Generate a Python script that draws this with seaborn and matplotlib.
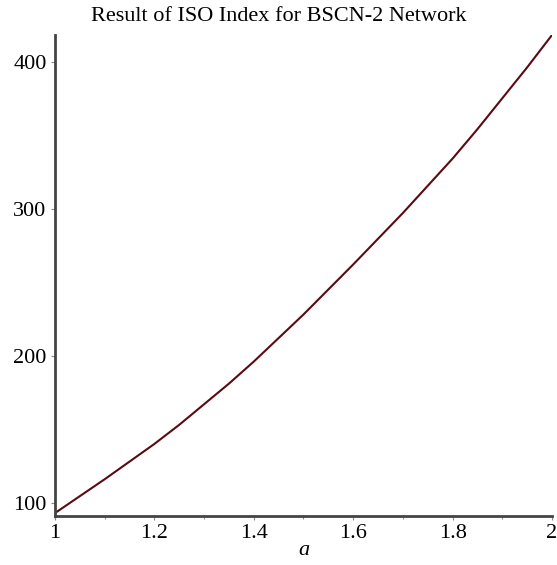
import matplotlib
matplotlib.use("Agg")
import matplotlib.pyplot as plt
import seaborn as sns
import pandas as pd
from matplotlib.ticker import MultipleLocator

# Data
a_values = [1.00, 1.05, 1.10, 1.15, 1.20, 1.25, 1.30, 1.35, 1.40, 1.45, 1.50,
            1.55, 1.60, 1.65, 1.70, 1.75, 1.80, 1.85, 1.90, 1.95, 2.00]
iso_values = [93, 104.5, 116, 128, 140, 153, 167, 181, 196, 212, 228,
              245, 262, 279.5, 297, 315.5, 334, 354, 375, 396, 418]
x_ticks = [1, 1.2, 1.4, 1.6, 1.8, 2]
x_tick_labels = ["1", "1.2", "1.4", "1.6", "1.8", "2"]
y_ticks = [100, 200, 300, 400]
y_tick_labels = ["100", "200", "300", "400"]
title = "Result of ISO Index for BSCN-2 Network"

df = pd.DataFrame({"a": a_values, "ISO": iso_values})

sns.set_theme(style="white")
plt.rcParams["font.family"] = ["Liberation Serif", "DejaVu Serif"]

fig = plt.figure(figsize=(5.57, 5.65), dpi=100)
ax_left, ax_width = 0.0987, 0.8923
ax = fig.add_axes([ax_left, 0.0867, ax_width, 0.8513])

sns.lineplot(data=df, x="a", y="ISO", ax=ax, color="#5a0a12", linewidth=1.5)

ax.set_xlim(1, 2)
ax.set_ylim(91, 418)
ax.set_xticks(x_ticks)
ax.set_xticklabels(x_tick_labels)
ax.set_yticks(y_ticks)
ax.set_yticklabels(y_tick_labels)
ax.xaxis.set_minor_locator(MultipleLocator(0.1))

for side in ["top", "right"]:
    ax.spines[side].set_visible(False)
for side in ["left", "bottom"]:
    ax.spines[side].set_color("#444444")
    ax.spines[side].set_linewidth(2.0)

ax.tick_params(axis="both", which="major", direction="out", length=3, width=0.8,
               color="#888888", labelsize=16, labelcolor="black", pad=3)
ax.tick_params(axis="x", which="minor", direction="out", length=2, width=0.8,
               color="#888888", bottom=True)
ax.tick_params(axis="x", which="major", bottom=True)
ax.tick_params(axis="y", which="major", left=True)

ax.set_xlabel("a", fontsize=16, fontstyle="italic", labelpad=-2, color="black")
ax.set_ylabel("")
ax.set_title(title, fontsize=16, pad=10, x=(0.5 - ax_left) / ax_width, color="black")

fig.savefig("out.png", dpi=100)
